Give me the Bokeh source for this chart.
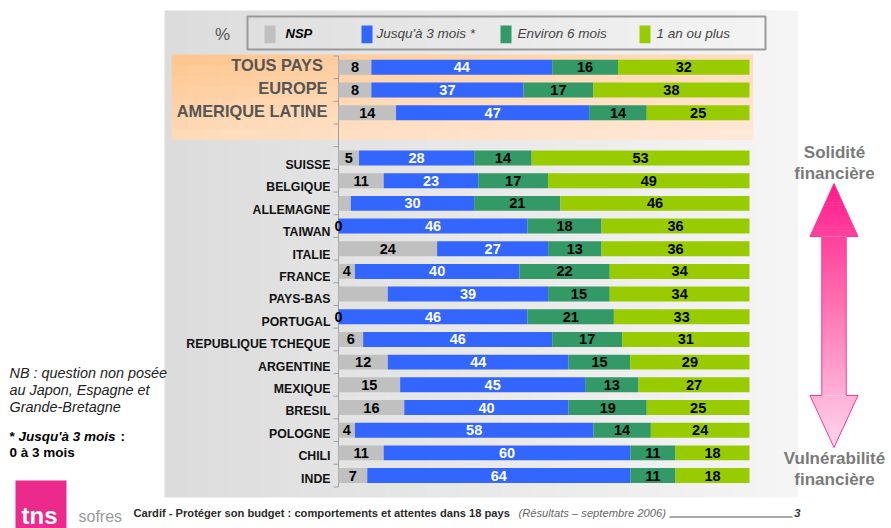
import numpy as np
from bokeh.plotting import figure
from bokeh.models import Range1d, ColumnDataSource
from bokeh.core.properties import value
from bokeh.embed import file_html
from bokeh.resources import INLINE

# ---------------- data ----------------
group_labels = ["TOUS  PAYS", "EUROPE", "AMERIQUE LATINE"]
country_labels = ["SUISSE", "BELGIQUE", "ALLEMAGNE", "TAIWAN", "ITALIE", "FRANCE",
                  "PAYS-BAS", "PORTUGAL", "REPUBLIQUE TCHEQUE", "ARGENTINE", "MEXIQUE",
                  "BRESIL", "POLOGNE", "CHILI", "INDE"]
nsp = [8, 8, 14, 5, 11, 3, 0, 24, 4, 12, 0, 6, 12, 15, 16, 4, 11, 7]
upto3m = [44, 37, 47, 28, 23, 30, 46, 27, 40, 39, 46, 46, 44, 45, 40, 58, 60, 64]
about6m = [16, 17, 14, 14, 17, 21, 18, 13, 22, 15, 21, 17, 15, 13, 19, 14, 11, 11]
oneyear = [32, 38, 25, 53, 49, 46, 36, 36, 34, 34, 33, 31, 29, 27, 25, 24, 18, 18]
nsp_text = ["8", "8", "14", "5", "11", "", "0", "24", "4", "", "0", "6", "12", "15", "16", "4", "11", "7"]
series = ["NSP", "Jusqu'à 3 mois *", "Environ 6 mois", "1 an ou plus"]
colors = ["#c0c0c0", "#3366ff", "#339966", "#99cc00"]
label_colors = ["#000000", "#ffffff", "#000000", "#000000"]

FONT = value("Liberation Sans")

# ------------- layout helpers (reference pixels -> data units) -------------
W, H, M = 891, 528, 0
X0, SX = 338.0, 4.11
Y0, SY = 66.8, 22.68


def X(px):
    return (px - X0) / SX


def Y(py):
    return (py - Y0) / SY


def hex2rgb(h):
    h = h.lstrip("#")
    return np.array([int(h[i:i + 2], 16) for i in (0, 2, 4)], float)


def mix(stops, t):
    for (t0, c0), (t1, c1) in zip(stops[:-1], stops[1:]):
        if t <= t1 or t1 == stops[-1][0]:
            u = 0 if t1 == t0 else min(max((t - t0) / (t1 - t0), 0), 1)
            c = hex2rgb(c0) * (1 - u) + hex2rgb(c1) * u
            return "#%02x%02x%02x" % tuple(int(round(v)) for v in c)


p = figure(width=W, height=H, x_range=Range1d(X(M), X(M + W)),
           y_range=Range1d(Y(M + H), Y(M)), output_backend="svg",
           toolbar_location=None, min_border=0)
p.xaxis.visible = False
p.yaxis.visible = False
p.xgrid.visible = False
p.ygrid.visible = False
p.outline_line_color = None
p.background_fill_color = "white"
p.border_fill_color = "white"

# ---- gray panel (horizontal gradient) ----
n = 60
xs = np.linspace(164, 797, n + 1)
cols = [mix([(0, "#dcdcdc"), (1, "#f5f5f5")], i / (n - 1)) for i in range(n)]
p.quad(left=[X(a) for a in xs[:-1]], right=[X(b + 0.6) for b in xs[1:]],
       top=Y(10), bottom=Y(497), fill_color=cols, line_color=None)

# ---- orange panel (diagonal gradient) ----
nx, ny = 36, 8
ox = np.linspace(171, 752, nx + 1)
oy = np.linspace(54, 139, ny + 1)
L, R, T, B, C = [], [], [], [], []
for i in range(nx):
    for j in range(ny):
        t = 0.55 * (i / (nx - 1)) + 0.45 * (j / (ny - 1))
        L.append(X(ox[i])); R.append(X(ox[i + 1] + 0.6))
        T.append(Y(oy[j])); B.append(Y(oy[j + 1] + 0.6))
        C.append(mix([(0, "#fec690"), (0.5, "#fedcbc"), (1, "#fee8d8")], t))
p.quad(left=L, right=R, top=T, bottom=B, fill_color=C, line_color=None)

# ---- category axis ----
rows = list(range(3)) + list(range(4, 19))
p.segment(x0=0, x1=0, y0=-0.5, y1=18.5, line_color="#a0a0a0", line_width=1)
bounds = [r - 0.5 for r in range(20)]
p.segment(x0=X(333), x1=0, y0=bounds, y1=bounds, line_color="#a0a0a0", line_width=1)

# ---- stacked bars ----
vals = np.array([nsp, upto3m, about6m, oneyear], float)
cum = np.cumsum(vals, axis=0)
lefts = cum - vals
sources = []
for k in range(4):
    txt = nsp_text if k == 0 else [str(v) for v in vals[k].astype(int)]
    src = ColumnDataSource(dict(y=rows, left=lefts[k], right=cum[k],
                                mid=(lefts[k] + cum[k]) / 2, txt=txt))
    sources.append(src)
    p.hbar(y="y", left="left", right="right", height=0.66, source=src,
           fill_color=colors[k], line_color=None)
for k in range(4):
    p.text(x="mid", y="y", text="txt", source=sources[k], text_font=FONT,
           text_font_style="bold", text_font_size="14.5px",
           text_color=label_colors[k], text_align="center", text_baseline="middle")

# ---- category labels ----
p.text(x=X(327), y=[r - 0.08 for r in rows[:3]], text=group_labels, text_font=FONT,
       text_font_style="bold", text_font_size="16.4px", text_color="#555555",
       text_align="right", text_baseline="middle")
cy = [rows[3 + k] + (7 - 4 * k / 14) / SY for k in range(len(country_labels))]
p.text(x=X(330), y=cy, text=country_labels, text_font=FONT,
       text_font_style="bold", text_font_size="12.3px", text_color="#111111",
       text_align="right", text_baseline="middle")

# ---- legend ----
p.quad(left=X(247), right=X(765), top=Y(16), bottom=Y(49), fill_color=None,
       line_color="#9a9a9a", line_width=2)
p.text(x=X(222), y=Y(34), text=["%"], text_font=FONT, text_font_size="17px",
       text_color="#555555", text_align="center", text_baseline="middle")
sw_x = [264, 361, 500, 639]
tx_x = [285, 376, 517, 656]
p.quad(left=[X(a) for a in sw_x], right=[X(a + 11) for a in sw_x], top=Y(25),
       bottom=Y(42.7), fill_color=colors, line_color=None)
p.text(x=X(tx_x[0]), y=Y(32.5), text=[series[0]], text_font=FONT,
       text_font_style="bold italic", text_font_size="13px", text_color="#000000",
       text_align="left", text_baseline="middle")
p.text(x=[X(a) for a in tx_x[1:]], y=Y(32.5), text=series[1:], text_font=FONT,
       text_font_style="italic", text_font_size="13.5px", text_color="#444444",
       text_align="left", text_baseline="middle")

# ---- left notes ----
p.text(x=X(9), y=[Y(372), Y(389), Y(406)],
       text=["NB : question non posée", "au Japon, Espagne et", "Grande-Bretagne"],
       text_font=FONT, text_font_style="italic", text_font_size="14.4px",
       text_color="#222222", text_align="left", text_baseline="middle")
p.text(x=[X(9), X(120)], y=Y(436), text=["*", ":"], text_font=FONT,
       text_font_style="bold", text_font_size="13.5px", text_color="#000000",
       text_align="left", text_baseline="middle")
p.text(x=X(18), y=Y(436), text=["Jusqu'à 3 mois"], text_font=FONT,
       text_font_style="bold italic", text_font_size="13.5px", text_color="#000000",
       text_align="left", text_baseline="middle")
p.text(x=X(9), y=Y(452), text=["0 à 3 mois"], text_font=FONT,
       text_font_style="bold", text_font_size="13.5px", text_color="#000000",
       text_align="left", text_baseline="middle")

# ---- arrow with gradient ----
ax = 833.5
t_top, h1, h2, t_bot = 183.0, 236.0, 395.0, 447.0
hwh, hws = 24.0, 12.2
stops = [(0, "#ff1a8c"), (0.45, "#ff70b0"), (1, "#ffd6ec")]
pieces = [(t_top, h1, lambda y: hwh * (y - t_top) / (h1 - t_top)),
          (h1, h2, lambda y: hws),
          (h2, t_bot, lambda y: hwh * (t_bot - y) / (t_bot - h2))]
pxs, pys, pcs = [], [], []
for a, b, f in pieces:
    k = max(int((b - a) / 3), 1)
    ys_ = np.linspace(a, b, k + 1)
    for y0, y1 in zip(ys_[:-1], ys_[1:]):
        y1e = min(y1 + 0.5, b)
        pxs.append([X(ax - f(y0)), X(ax + f(y0)), X(ax + f(y1e)), X(ax - f(y1e))])
        pys.append([Y(y0), Y(y0), Y(y1e), Y(y1e)])
        pcs.append(mix(stops, ((y0 + y1) / 2 - t_top) / (t_bot - t_top)))
p.patches(xs=pxs, ys=pys, fill_color=pcs, line_color=None)
outline_x = [ax, ax + hwh, ax + hws, ax + hws, ax + hwh, ax, ax - hwh, ax - hws, ax - hws, ax - hwh]
outline_y = [t_top, h1, h1, h2, h2, t_bot, h2, h2, h1, h1]
p.patch(x=[X(v) for v in outline_x], y=[Y(v) for v in outline_y], fill_color=None,
        line_color="#ff3399", line_width=1)
p.text(x=X(834), y=[Y(152), Y(173), Y(458), Y(479)],
       text=["Solidité", "financière", "Vulnérabilité", "financière"],
       text_font=FONT, text_font_style="bold", text_font_size="17px",
       text_color="#7a7a7a", text_align="center", text_baseline="middle")

# ---- footer ----
p.text(x=X(133), y=Y(512), text=["Cardif - Protéger son budget : comportements et attentes dans 18 pays"],
       text_font=FONT, text_font_style="bold", text_font_size="11.15px",
       text_color="#2a2a2a", text_align="left", text_baseline="middle")
p.text(x=X(518), y=Y(512), text=["(Résultats – septembre 2006)"],
       text_font=FONT, text_font_style="italic", text_font_size="11.2px",
       text_color="#666666", text_align="left", text_baseline="middle")
p.segment(x0=X(669), x1=X(792), y0=Y(516.5), y1=Y(516.5), line_color="#555555", line_width=1)
p.text(x=X(800), y=Y(512), text=["3"], text_font=FONT, text_font_style="bold italic",
       text_font_size="11.2px", text_color="#333333", text_align="right",
       text_baseline="middle")

# ---- logo ----
p.quad(left=X(15), right=X(66), top=Y(480), bottom=Y(528), fill_color="#ec2a8c",
       line_color=None)
p.text(x=X(21), y=Y(515), text=["tns"], text_font=FONT, text_font_style="bold",
       text_font_size="24px", text_color="#ffffff", text_align="left",
       text_baseline="alphabetic")
p.text(x=X(78), y=Y(516), text=["sofres"], text_font=FONT, text_font_size="16px",
       text_color="#9a9a9a", text_align="left", text_baseline="alphabetic")

open("out.html", "w").write(file_html(p, INLINE))
